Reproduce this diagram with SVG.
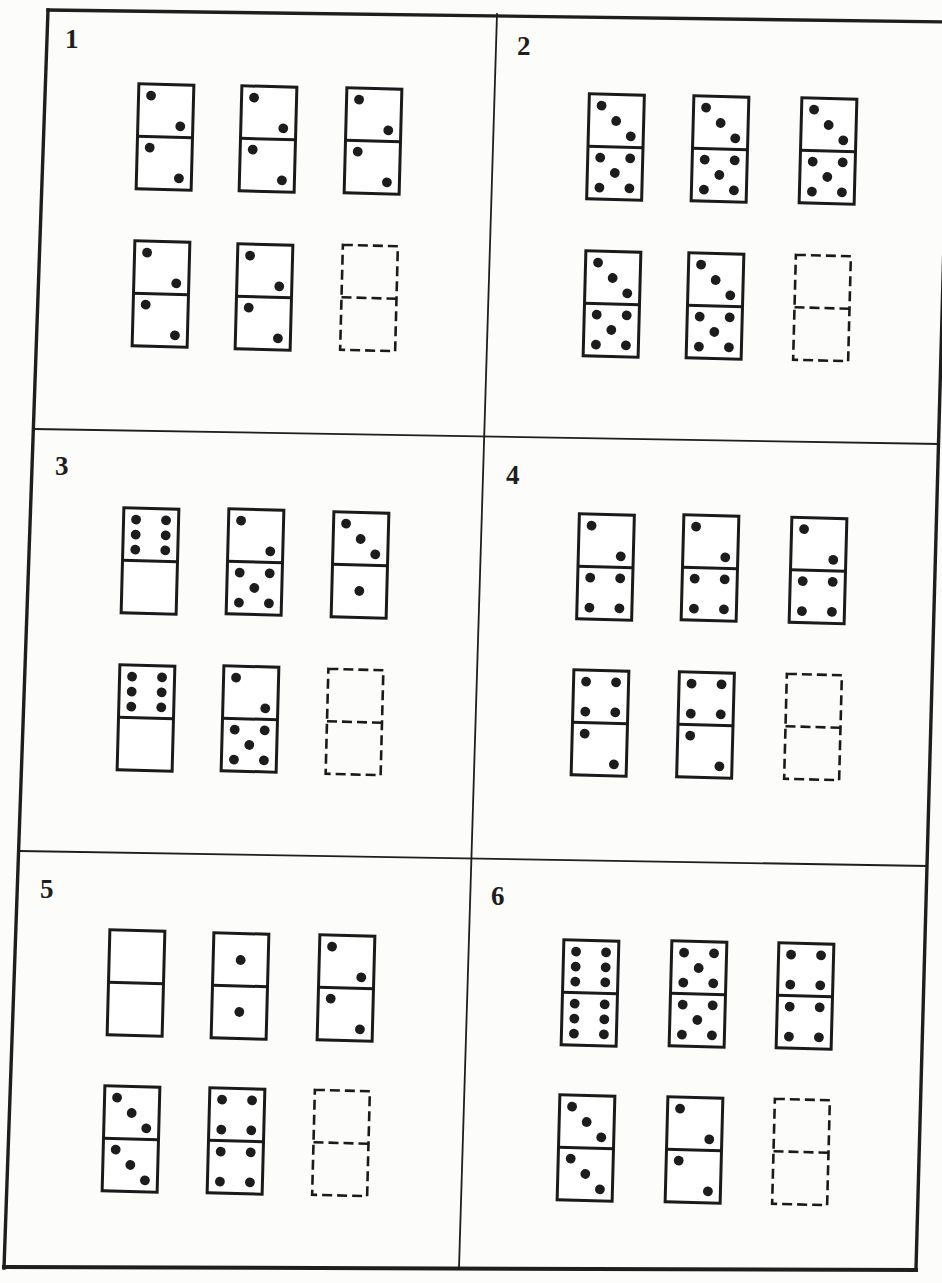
<svg xmlns="http://www.w3.org/2000/svg" xmlns:xlink="http://www.w3.org/1999/xlink" width="942" height="1283" viewBox="0 0 942 1283">
<style>
.frame{stroke:#1e1e1e;fill:none;stroke-linecap:square}
.thick{stroke-width:3.4}
.thin{stroke-width:1.8}
.dom{fill:#fff;stroke:#1a1a1a;stroke-width:3}
.dash{fill:none;stroke:#1a1a1a;stroke-width:2.6;stroke-dasharray:10 5}
.pip{fill:#1c1c1c}
.lbl{font-family:"Liberation Serif","DejaVu Serif",serif;font-weight:bold;font-size:27px;fill:#1e1e1e}
</style>
<defs>
<circle id="p" class="pip" r="4.9"/>
<g id="solid"><rect class="dom" x="-27.5" y="-52.5" width="55" height="105"/><line class="dom" x1="-27.5" y1="0" x2="27.5" y2="0"/></g>
<g id="empty"><rect class="dash" x="-27.5" y="-52.5" width="55" height="105"/><line class="dash" x1="-27.5" y1="0" x2="27.5" y2="0"/></g>
<g id="t1"><use xlink:href="#p" x="0" y="-26"/></g>
<g id="t2"><use xlink:href="#p" x="-15" y="-41"/><use xlink:href="#p" x="15" y="-11"/></g>
<g id="t3"><use xlink:href="#p" x="-15" y="-41"/><use xlink:href="#p" x="0" y="-26"/><use xlink:href="#p" x="15" y="-11"/></g>
<g id="t4"><use xlink:href="#p" x="-15" y="-41"/><use xlink:href="#p" x="15" y="-41"/><use xlink:href="#p" x="-15" y="-11"/><use xlink:href="#p" x="15" y="-11"/></g>
<g id="t5"><use xlink:href="#t4"/><use xlink:href="#p" x="0" y="-26"/></g>
<g id="t6"><use xlink:href="#t4"/><use xlink:href="#p" x="-15" y="-26"/><use xlink:href="#p" x="15" y="-26"/></g>
<g id="b1"><use xlink:href="#t1" y="52"/></g>
<g id="b2"><use xlink:href="#t2" y="52"/></g>
<g id="b3"><use xlink:href="#t3" y="52"/></g>
<g id="b4"><use xlink:href="#t4" y="52"/></g>
<g id="b5"><use xlink:href="#t5" y="52"/></g>
<g id="b6"><use xlink:href="#t6" y="52"/></g>
</defs>
<rect width="942" height="1283" fill="#fcfcfb"/>
<g id="frame">
<line class="frame thick" x1="48" y1="10" x2="950" y2="22"/>
<line class="frame thick" x1="48" y1="10" x2="4" y2="1268"/>
<line class="frame thick" x1="950" y1="22" x2="916" y2="1269"/>
<line class="frame" stroke-width="4" stroke="#333" x1="4" y1="1267" x2="916" y2="1270"/>
<line class="frame thin" x1="497" y1="14" x2="459" y2="1268"/>
<line class="frame thin" x1="34" y1="429" x2="939" y2="444"/>
<line class="frame thin" x1="20" y1="851" x2="927" y2="866"/>
</g>
<g id="labels">
<text class="lbl" x="65" y="48">1</text>
<text class="lbl" x="517" y="55">2</text>
<text class="lbl" x="55" y="475">3</text>
<text class="lbl" x="506" y="484">4</text>
<text class="lbl" x="40" y="898">5</text>
<text class="lbl" x="491" y="905">6</text>
</g>
<g id="panel1">
<g id="p1d1" transform="translate(165,137) rotate(1.5)"><use xlink:href="#solid"/><use xlink:href="#t2"/><use xlink:href="#b2"/></g>
<g id="p1d2" transform="translate(268,139) rotate(1.5)"><use xlink:href="#solid"/><use xlink:href="#t2"/><use xlink:href="#b2"/></g>
<g id="p1d3" transform="translate(373,141) rotate(1.5)"><use xlink:href="#solid"/><use xlink:href="#t2"/><use xlink:href="#b2"/></g>
<g id="p1d4" transform="translate(161,294) rotate(1.5)"><use xlink:href="#solid"/><use xlink:href="#t2"/><use xlink:href="#b2"/></g>
<g id="p1d5" transform="translate(264,297) rotate(1.5)"><use xlink:href="#solid"/><use xlink:href="#t2"/><use xlink:href="#b2"/></g>
<g id="p1d6" transform="translate(369,298) rotate(1.5)"><use xlink:href="#empty"/></g>
</g>
<g id="panel2">
<g id="p2d1" transform="translate(615.5,147) rotate(1.5)"><use xlink:href="#solid"/><use xlink:href="#t3"/><use xlink:href="#b5"/></g>
<g id="p2d2" transform="translate(720,149) rotate(1.5)"><use xlink:href="#solid"/><use xlink:href="#t3"/><use xlink:href="#b5"/></g>
<g id="p2d3" transform="translate(828,151) rotate(1.5)"><use xlink:href="#solid"/><use xlink:href="#t3"/><use xlink:href="#b5"/></g>
<g id="p2d4" transform="translate(612,304) rotate(1.5)"><use xlink:href="#solid"/><use xlink:href="#t3"/><use xlink:href="#b5"/></g>
<g id="p2d5" transform="translate(715,306) rotate(1.5)"><use xlink:href="#solid"/><use xlink:href="#t3"/><use xlink:href="#b5"/></g>
<g id="p2d6" transform="translate(822,308) rotate(1.5)"><use xlink:href="#empty"/></g>
</g>
<g id="panel3">
<g id="p3d1" transform="translate(150,561) rotate(1.5)"><use xlink:href="#solid"/><use xlink:href="#t6"/></g>
<g id="p3d2" transform="translate(255,562) rotate(1.5)"><use xlink:href="#solid"/><use xlink:href="#t2"/><use xlink:href="#b5"/></g>
<g id="p3d3" transform="translate(360,565) rotate(1.5)"><use xlink:href="#solid"/><use xlink:href="#t3"/><use xlink:href="#b1"/></g>
<g id="p3d4" transform="translate(146,718) rotate(1.5)"><use xlink:href="#solid"/><use xlink:href="#t6"/></g>
<g id="p3d5" transform="translate(250,719) rotate(1.5)"><use xlink:href="#solid"/><use xlink:href="#t2"/><use xlink:href="#b5"/></g>
<g id="p3d6" transform="translate(354.5,722) rotate(1.5)"><use xlink:href="#empty"/></g>
</g>
<g id="panel4">
<g id="p4d1" transform="translate(605.5,567) rotate(1.5)"><use xlink:href="#solid"/><use xlink:href="#t2"/><use xlink:href="#b4"/></g>
<g id="p4d2" transform="translate(710,568) rotate(1.5)"><use xlink:href="#solid"/><use xlink:href="#t2"/><use xlink:href="#b4"/></g>
<g id="p4d3" transform="translate(818,570.5) rotate(1.5)"><use xlink:href="#solid"/><use xlink:href="#t2"/><use xlink:href="#b4"/></g>
<g id="p4d4" transform="translate(600,723) rotate(1.5)"><use xlink:href="#solid"/><use xlink:href="#t4"/><use xlink:href="#b2"/></g>
<g id="p4d5" transform="translate(705.5,725) rotate(1.5)"><use xlink:href="#solid"/><use xlink:href="#t4"/><use xlink:href="#b2"/></g>
<g id="p4d6" transform="translate(813,727) rotate(1.5)"><use xlink:href="#empty"/></g>
</g>
<g id="panel5">
<g id="p5d1" transform="translate(136,983) rotate(1.5)"><use xlink:href="#solid"/></g>
<g id="p5d2" transform="translate(240,986) rotate(1.5)"><use xlink:href="#solid"/><use xlink:href="#t1"/><use xlink:href="#b1"/></g>
<g id="p5d3" transform="translate(346,988) rotate(1.5)"><use xlink:href="#solid"/><use xlink:href="#t2"/><use xlink:href="#b2"/></g>
<g id="p5d4" transform="translate(131,1139) rotate(1.5)"><use xlink:href="#solid"/><use xlink:href="#t3"/><use xlink:href="#b3"/></g>
<g id="p5d5" transform="translate(236,1141) rotate(1.5)"><use xlink:href="#solid"/><use xlink:href="#t4"/><use xlink:href="#b4"/></g>
<g id="p5d6" transform="translate(341,1143) rotate(1.5)"><use xlink:href="#empty"/></g>
</g>
<g id="panel6">
<g id="p6d1" transform="translate(590,993) rotate(1.5)"><use xlink:href="#solid"/><use xlink:href="#t6"/><use xlink:href="#b6"/></g>
<g id="p6d2" transform="translate(698,994) rotate(1.5)"><use xlink:href="#solid"/><use xlink:href="#t5"/><use xlink:href="#b5"/></g>
<g id="p6d3" transform="translate(805,996) rotate(1.5)"><use xlink:href="#solid"/><use xlink:href="#t4"/><use xlink:href="#b4"/></g>
<g id="p6d4" transform="translate(586,1148) rotate(1.5)"><use xlink:href="#solid"/><use xlink:href="#t3"/><use xlink:href="#b3"/></g>
<g id="p6d5" transform="translate(694,1150) rotate(1.5)"><use xlink:href="#solid"/><use xlink:href="#t2"/><use xlink:href="#b2"/></g>
<g id="p6d6" transform="translate(801,1152) rotate(1.5)"><use xlink:href="#empty"/></g>
</g>
</svg>
